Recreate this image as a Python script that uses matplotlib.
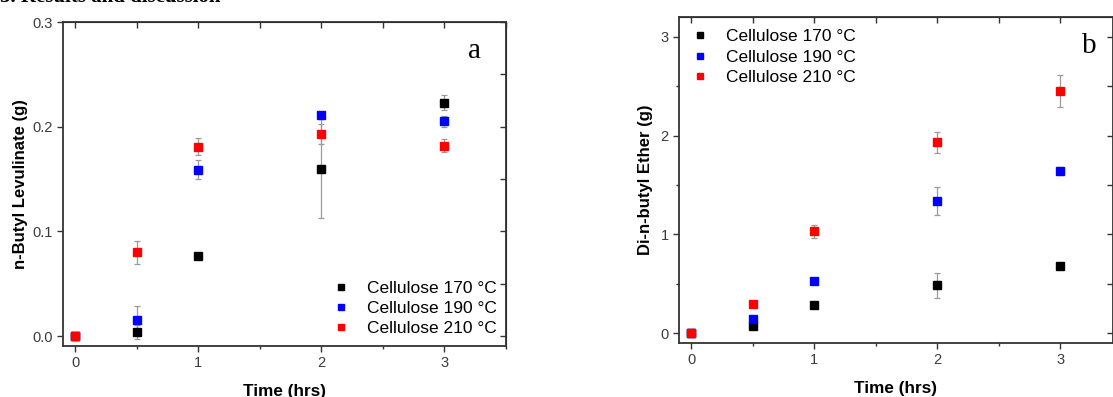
import matplotlib.pyplot as plt
from matplotlib.ticker import MultipleLocator

# datos
tiempo = [0, 0.5, 1, 2, 3]
series = ["Cellulose 170 °C", "Cellulose 190 °C", "Cellulose 210 °C"]
colores = ["black", "blue", "red"]

# panel a: n-butyl levulinate (g)
lev_170 = [0.0, 0.004, 0.076, 0.160, 0.223]
lev_170_err = [0.0, 0.007, 0.002, 0.047, 0.007]
lev_190 = [0.0, 0.015, 0.159, 0.211, 0.205]
lev_190_err = [0.0, 0.014, 0.009, 0.003, 0.005]
lev_210 = [0.0, 0.080, 0.181, 0.193, 0.182]
lev_210_err = [0.0, 0.011, 0.0085, 0.010, 0.006]

# panel b: di-n-butyl ether (g)
eter_170 = [0.0, 0.07, 0.287, 0.483, 0.68]
eter_170_err = [0.0, 0.03, 0.02, 0.13, 0.02]
eter_190 = [0.0, 0.142, 0.53, 1.336, 1.644]
eter_190_err = [0.0, 0.02, 0.03, 0.14, 0.04]
eter_210 = [0.0, 0.29, 1.03, 1.93, 2.45]
eter_210_err = [0.0, 0.02, 0.065, 0.11, 0.165]

plt.rcParams['font.family'] = ['Liberation Sans', 'DejaVu Sans']
gris = '#333333'

fig = plt.figure(figsize=(11.13, 3.97), dpi=100)
ax1 = fig.add_axes([63 / 1113, 51 / 397, 443 / 1113, 324 / 397])
ax2 = fig.add_axes([679 / 1113, 54 / 397, 434 / 1113, 326 / 397])

# titulo de la seccion, cortado arriba como en la imagen original
fig.text(0.0, 1 - 1.5 / 397, "3. Results and discussion", family='Liberation Serif',
         fontsize=15, fontweight='bold', va='baseline', ha='left')


def dibujar(ax, datos, errores):
    for nombre, col, y, e in zip(series, colores, datos, errores):
        ax.errorbar(tiempo, y, yerr=e, fmt='s', color=col, markersize=6.3,
                    ecolor='#9a9a9a', elinewidth=0.9, capsize=2.5, capthick=0.9,
                    label=nombre, zorder=3)
    for s in ax.spines.values():
        s.set_color(gris)
        s.set_linewidth(1.3)
    ax.tick_params(which='both', direction='out', colors=gris, labelcolor='#3a3a3a',
                   labelsize=10.5, width=1.0, top=False, right=False)
    ax.tick_params(which='major', length=4)
    ax.tick_params(which='minor', length=2.5)
    ax.xaxis.set_major_locator(MultipleLocator(1))
    ax.xaxis.set_minor_locator(MultipleLocator(0.5))
    arriba = ax.secondary_xaxis('top')
    arriba.xaxis.set_major_locator(MultipleLocator(0.5))
    arriba.tick_params(direction='in', length=4, width=1.0, colors=gris, labeltop=False)
    derecha = ax.secondary_yaxis('right')
    derecha.tick_params(direction='in', length=4, width=1.0, colors=gris, labelright=False)
    ax.set_xlabel("Time (hrs)", fontsize=12.3, fontweight='bold', labelpad=10)
    return derecha


def leyenda(ax, **kw):
    h, l = ax.get_legend_handles_labels()
    h = [x[0] for x in h]
    ax.legend(h, l, frameon=False, fontsize=12.5, handlelength=1.0, handletextpad=1.0,
              labelspacing=0.3, markerscale=0.65, **kw)


der1 = dibujar(ax1, [lev_170, lev_190, lev_210], [lev_170_err, lev_190_err, lev_210_err])
ax1.set_xlim(-0.1, 3.5)
ax1.set_ylim(-0.0095, 0.3)
ax1.set_yticks([0.0, 0.1, 0.2, 0.3])
ax1.set_yticklabels(["0.0", "0.1", "0.2", "0.3"])
der1.yaxis.set_major_locator(MultipleLocator(0.05))
ax1.set_ylabel("n-Butyl Levulinate (g)", fontsize=12, fontweight='bold', labelpad=3)
ax1.text(0.93, 0.89, "a", transform=ax1.transAxes, family='Liberation Serif',
         fontsize=21, ha='center', va='baseline')
leyenda(ax1, loc='lower right', bbox_to_anchor=(1.0, 0.0), borderaxespad=0.15)

der2 = dibujar(ax2, [eter_170, eter_190, eter_210], [eter_170_err, eter_190_err, eter_210_err])
ax2.set_xlim(-0.1, 3.43)
ax2.set_ylim(-0.1, 3.2)
ax2.yaxis.set_major_locator(MultipleLocator(1))
ax2.yaxis.set_minor_locator(MultipleLocator(0.5))
der2.yaxis.set_major_locator(MultipleLocator(0.5))
ax2.set_ylabel("Di-n-butyl Ether (g)", fontsize=12, fontweight='bold', labelpad=5)
ax2.text(0.945, 0.89, "b", transform=ax2.transAxes, family='Liberation Serif',
         fontsize=21, ha='center', va='baseline')
leyenda(ax2, loc='upper left', bbox_to_anchor=(0.0, 1.0), borderaxespad=0.3)

fig.savefig("out.png", dpi=100)
